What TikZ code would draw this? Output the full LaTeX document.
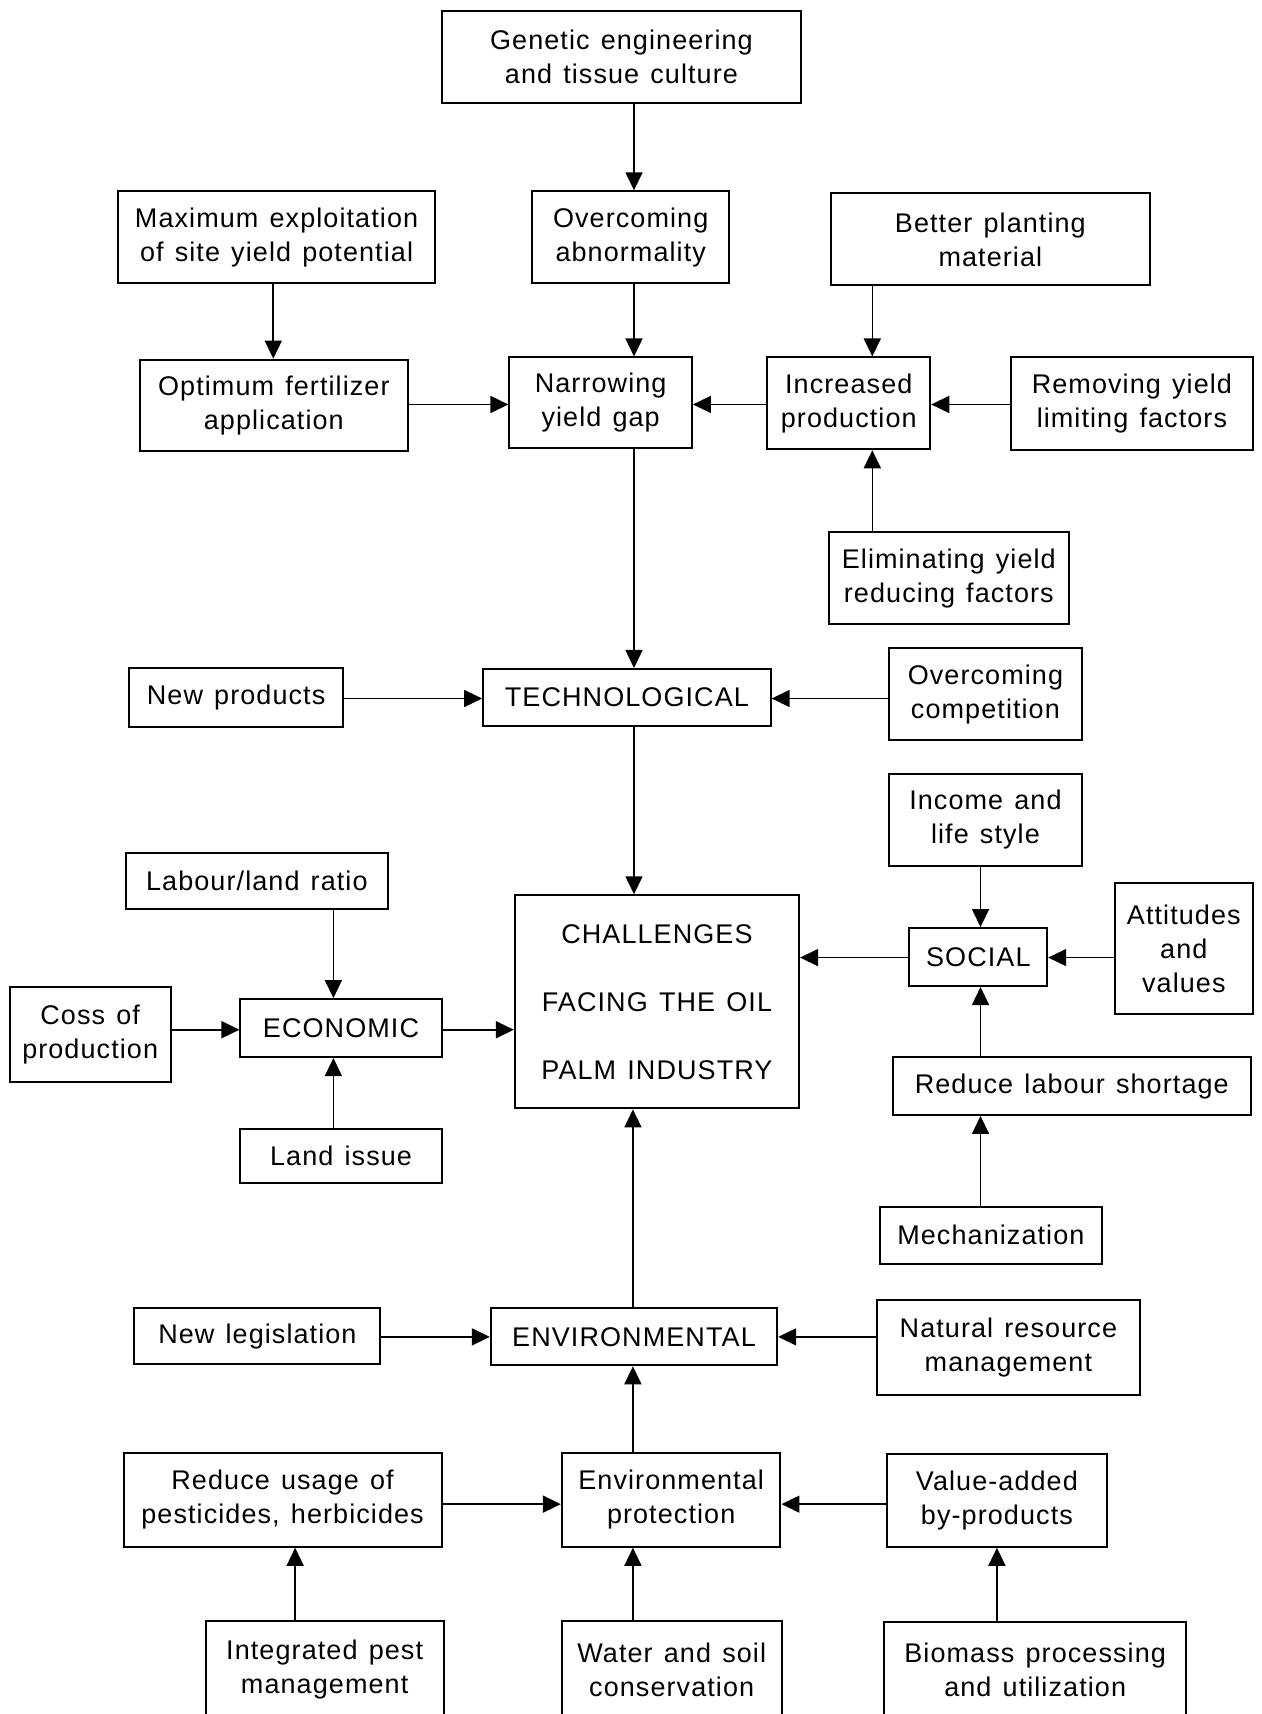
\documentclass[tikz,border=0pt]{standalone}
\usepackage{fontspec}
\setmainfont{Liberation Sans}[LetterSpace=4,WordSpace=1.3]
\usetikzlibrary{arrows.meta}
\newcommand\myu{0.54635pt}
\newcommand\mybox[6]{\node[bx,minimum width={(#4-#2)*\myu},minimum height={(#5-#3)*\myu}] (#1) at ({(#2+#4)/2},{(#3+#5)/2}) {#6};}
\begin{document}
\begin{tikzpicture}[x=0.54635pt,y=-0.54635pt,
  bx/.style={draw, line width=1pt, inner sep=0pt, align=center, font=\fontsize{13.5}{17}\selectfont},
  arr/.style={line width=0.8pt, -{Triangle[length=9pt,width=8.5pt]}}]
\useasboundingbox (0,0) rectangle (1154,1568);
\clip (0,0) rectangle (1154,1568);
% columns and rows
\coordinate (c250) at (250,0);
\coordinate (c270) at (270,0);
\coordinate (c305) at (305,0);
\coordinate (c579) at (579,0);
\coordinate (c580) at (580,0);
\coordinate (c798) at (798,0);
\coordinate (c897) at (897,0);
\coordinate (c912) at (912,0);
\coordinate (r370) at (0,370);
\coordinate (r639) at (0,639);
\coordinate (r876) at (0,876);
\coordinate (r942) at (0,942);
\coordinate (r1223) at (0,1223);
\coordinate (r1376) at (0,1376);
% boxes
\mybox{gen}{404}{10}{733}{94}{Genetic engineering\\and tissue culture}
\mybox{max}{108}{175}{398}{259}{Maximum exploitation\\of site yield potential}
\mybox{oab}{487}{175}{667}{259}{Overcoming\\abnormality}
\mybox{bpm}{760}{177}{1052}{261}{Better planting\\material}
\mybox{opt}{128}{329}{373}{413}{Optimum fertilizer\\application}
\mybox{nar}{466}{327}{633}{410}{Narrowing\\yield gap}
\mybox{inc}{702}{327}{851}{411}{Increased\\production}
\mybox{rem}{925}{327}{1146}{412}{Removing yield\\limiting factors}
\mybox{eli}{758}{487}{978}{571}{Eliminating yield\\reducing factors}
\mybox{newp}{118}{611}{314}{665}{New products}
\mybox{tech}{442}{612}{705}{664}{TECHNOLOGICAL}
\mybox{ocomp}{813}{593}{990}{677}{Overcoming\\competition}
\mybox{inco}{813}{708}{990}{792}{Income and\\life style}
\mybox{lab}{115}{780}{355}{832}{Labour/land ratio}
\mybox{chal}{471}{819}{731}{1014}{CHALLENGES\\[17pt]FACING THE OIL\\[17pt]PALM INDUSTRY}
\mybox{soc}{832}{849}{958}{902}{SOCIAL}
\mybox{att}{1020}{808}{1146}{928}{Attitudes\\and\\values}
\mybox{coss}{9}{903}{156}{990}{Coss of\\production}
\mybox{eco}{220}{914}{404}{967}{ECONOMIC}
\mybox{rls}{817}{967}{1144}{1020}{Reduce labour shortage}
\mybox{land}{220}{1033}{404}{1082}{Land issue}
\mybox{mech}{805}{1104}{1008}{1156}{Mechanization}
\mybox{leg}{123}{1197}{348}{1248}{New legislation}
\mybox{env}{449}{1197}{711}{1249}{ENVIRONMENTAL}
\mybox{nat}{802}{1189}{1043}{1276}{Natural resource\\management}
\mybox{rup}{113}{1329}{404}{1415}{Reduce usage of\\pesticides, herbicides}
\mybox{ep}{514}{1329}{714}{1415}{Environmental\\protection}
\mybox{vab}{811}{1330}{1013}{1415}{Value-added\\by-products}
\mybox{ipm}{188}{1483}{406}{1572}{Integrated pest\\management}
\mybox{wsc}{514}{1483}{715}{1572}{Water and soil\\conservation}
\mybox{bio}{809}{1484}{1085}{1572}{Biomass processing\\and utilization}
% arrows
\draw[arr] (gen.south -| c580) -- (oab.north -| c580);
\draw[arr] (max.south -| c250) -- (opt.north -| c250);
\draw[arr] (oab.south -| c580) -- (nar.north -| c580);
\draw[arr] (bpm.south -| c798) -- (inc.north -| c798);
\draw[arr] (eli.north -| c798) -- (inc.south -| c798);
\draw[arr] (opt.east |- r370) -- (nar.west |- r370);
\draw[arr] (inc.west |- r370) -- (nar.east |- r370);
\draw[arr] (rem.west |- r370) -- (inc.east |- r370);
\draw[arr] (nar.south -| c580) -- (tech.north -| c580);
\draw[arr] (newp.east |- r639) -- (tech.west |- r639);
\draw[arr] (ocomp.west |- r639) -- (tech.east |- r639);
\draw[arr] (tech.south -| c580) -- (chal.north -| c580);
\draw[arr] (lab.south -| c305) -- (eco.north -| c305);
\draw[arr] (land.north -| c305) -- (eco.south -| c305);
\draw[arr] (coss.east |- r942) -- (eco.west |- r942);
\draw[arr] (eco.east |- r942) -- (chal.west |- r942);
\draw[arr] (inco.south -| c897) -- (soc.north -| c897);
\draw[arr] (rls.north -| c897) -- (soc.south -| c897);
\draw[arr] (mech.north -| c897) -- (rls.south -| c897);
\draw[arr] (att.west |- r876) -- (soc.east |- r876);
\draw[arr] (soc.west |- r876) -- (chal.east |- r876);
\draw[arr] (env.north -| c579) -- (chal.south -| c579);
\draw[arr] (leg.east |- r1223) -- (env.west |- r1223);
\draw[arr] (nat.west |- r1223) -- (env.east |- r1223);
\draw[arr] (ep.north -| c579) -- (env.south -| c579);
\draw[arr] (rup.east |- r1376) -- (ep.west |- r1376);
\draw[arr] (vab.west |- r1376) -- (ep.east |- r1376);
\draw[arr] (ipm.north -| c270) -- (rup.south -| c270);
\draw[arr] (wsc.north -| c579) -- (ep.south -| c579);
\draw[arr] (bio.north -| c912) -- (vab.south -| c912);
\end{tikzpicture}
\end{document}
